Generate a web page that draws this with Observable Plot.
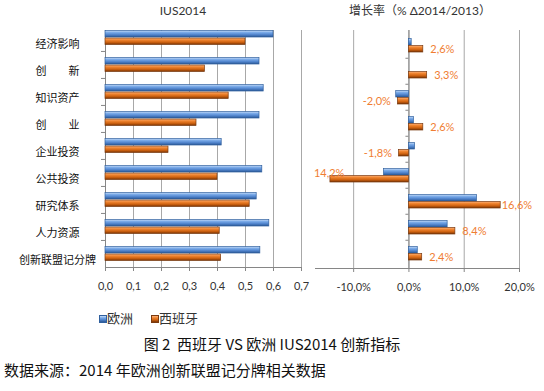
<!DOCTYPE html>
<html><head><meta charset="utf-8">
<script src="https://cdn.jsdelivr.net/npm/d3@7"></script>
<script src="https://cdn.jsdelivr.net/npm/@observablehq/plot@0.6"></script>
<style>
body{margin:0;background:#fff;}
#wrap{position:relative;width:544px;height:391px;overflow:hidden;background:#fff;font-family:"Noto Sans CJK SC",sans-serif;color:#222;}
.abs{position:absolute;white-space:nowrap;}
.sw{position:absolute;width:6px;height:6px;border:1px solid;}
</style></head><body><div id="wrap"></div>
<script>
// ---- data ----
const categories = ["经济影响","创新","知识资产","创业","企业投资","公共投资","研究体系","人力资源","创新联盟记分牌"];
const seriesNames = ["欧洲","西班牙"];
const euIndex = [0.60, 0.55, 0.565, 0.55, 0.415, 0.56, 0.54, 0.585, 0.553];
const esIndex = [0.50, 0.355, 0.44, 0.325, 0.225, 0.40, 0.515, 0.408, 0.413];
const euGrowth = [0.5, 0.0, -2.3, 0.9, 1.1, -4.5, 12.3, 7.0, 1.6];
const esGrowth = [2.6, 3.3, -2.0, 2.6, -1.8, -14.2, 16.6, 8.4, 2.4];
const esGrowthLabels = ["2,6%","3,3%","-2,0%","2,6%","-1,8%","14,2%","16,6%","8,4%","2,4%"];
const leftTicks = [0, 0.1, 0.2, 0.3, 0.4, 0.5, 0.6, 0.7];
const leftTickLabels = ["0,0","0,1","0,2","0,3","0,4","0,5","0,6","0,7"];
const rightTicks = [-10, 0, 10, 20];
const rightTickLabels = ["-10,0%","0,0%","10,0%","20,0%"];
const leftTitle = "IUS2014";
const rightTitle = "增长率（% Δ2014/2013）";
const caption = "图 2  西班牙 VS 欧洲 IUS2014 创新指标";
const source = "数据来源：2014 年欧洲创新联盟记分牌相关数据";

const rows = categories.map((c, i) => ({cat: c, eu: euIndex[i], es: esIndex[i], euG: euGrowth[i], esG: esGrowth[i], lab: esGrowthLabels[i]}));

const BLUE_STOPS = [[0, "#c9ddf7"], [0.3, "#7aaae8"], [0.65, "#4f83cc"], [1, "#2c5894"]];
const ORANGE_STOPS = [[0, "#fbb27c"], [0.3, "#f08530"], [0.65, "#cf6210"], [1, "#7a3404"]];
const gray = "#868686";
const grid = "#a8a8a8";
const labelColor = "#f07d32";
const numFont = "Lato, 'Noto Sans', sans-serif";
const cjkFont = "'Noto Sans CJK SC', sans-serif";

function addGradients(svg, prefix) {
  const defs = d3.select(svg).insert("defs", ":first-child");
  const mk = (id, stops) => {
    const g = defs.append("linearGradient").attr("id", id).attr("x1", 0).attr("y1", 0).attr("x2", 0).attr("y2", 1);
    stops.forEach(([o, c]) => g.append("stop").attr("offset", o).attr("stop-color", c));
  };
  mk(prefix + "B", BLUE_STOPS);
  mk(prefix + "O", ORANGE_STOPS);
}
const spaced = d => d.length === 2 ? d[0] + "\u3000\u3000" + d[1] : d;

const left = Plot.plot({
  width: 305, height: 300,
  marginLeft: 105, marginRight: 4, marginTop: 30, marginBottom: 33,
  style: {background: "none", overflow: "visible", fontFamily: numFont, fontSize: "11px", color: "#333"},
  x: {domain: [0, 0.7], label: null},
  y: {domain: categories, padding: 0, insetTop: -7, label: null},
  marks: [
    Plot.gridX(leftTicks, {stroke: grid, strokeOpacity: 1}),
    Plot.ruleX([0], {stroke: gray}),
    Plot.frame({anchor: "bottom", stroke: gray}),
    Plot.barX(rows, {x: "eu", y: "cat", fill: "url(#LB)", stroke: "#30609e", strokeWidth: 0.7, insetTop: 6.5, insetBottom: 14}),
    Plot.barX(rows, {x: "es", y: "cat", fill: "url(#LO)", stroke: "#7a3a10", strokeWidth: 0.7, insetTop: 14, insetBottom: 6.5}),
    Plot.axisX({ticks: leftTicks, tickFormat: d => leftTickLabels[leftTicks.indexOf(d)], tickSize: 4, tickPadding: 11, stroke: gray, fill: "#333", fontSize: 11, label: null}),
    Plot.axisY({tickSize: 0, tickPadding: 48, textAnchor: "middle", dy: 6, tickFormat: spaced, fontFamily: cjkFont, fontSize: 11, fill: "#111", label: null}),
    Plot.axisY(categories.slice(1), {tickSize: 4, tickFormat: () => "", dy: -13.55, stroke: gray, label: null})
  ]
});
addGradients(left, "L");

const right = Plot.plot({
  width: 244, height: 300,
  marginLeft: 15, marginRight: 25, marginTop: 30, marginBottom: 32,
  style: {background: "none", overflow: "visible", fontFamily: numFont, fontSize: "11px", color: "#333"},
  x: {domain: [-16.9, 20], label: null},
  y: {domain: categories, padding: 0, label: null},
  marks: [
    Plot.gridX(rightTicks, {stroke: grid, strokeOpacity: 1}),
    Plot.ruleX([0], {stroke: gray}),
    Plot.frame({anchor: "bottom", stroke: gray}),
    Plot.barX(rows, {x: "euG", y: "cat", fill: "url(#RB)", stroke: "#30609e", strokeWidth: 0.7, insetTop: 6.5, insetBottom: 13}),
    Plot.barX(rows, {x: "esG", y: "cat", fill: "url(#RO)", stroke: "#7a3a10", strokeWidth: 0.7, insetTop: 13.5, insetBottom: 6}),
    Plot.text(rows.filter(d => d.esG > 0 && d.esG < 15), {x: "esG", y: "cat", text: "lab", dx: 7, dy: 4, textAnchor: "start", fill: labelColor, fontSize: 11}),
    Plot.text(rows.filter(d => d.esG >= 15), {x: "esG", y: "cat", text: "lab", dx: 1, dy: 4, textAnchor: "start", fill: labelColor, fontSize: 11}),
    Plot.text(rows.filter(d => d.esG < 0 && d.esG > -10), {x: "esG", y: "cat", text: "lab", dx: -7, dy: 4, textAnchor: "end", fill: labelColor, fontSize: 11}),
    Plot.text(rows.filter(d => d.esG <= -10), {x: "esG", y: "cat", text: "lab", dx: 14, dy: -2, textAnchor: "end", fill: labelColor, fontSize: 11}),
    Plot.axisX({ticks: rightTicks, tickFormat: d => rightTickLabels[rightTicks.indexOf(d)], tickSize: 4, tickPadding: 11, stroke: gray, fill: "#333", fontSize: 11, label: null}),
    Plot.axisY(categories.slice(1), {x: 0, tickSize: 3, tickFormat: () => "", dy: -13.25, stroke: gray, label: null})
  ]
});
addGradients(right, "R");

const wrap = document.getElementById("wrap");
left.style.position = "absolute"; left.style.left = "0px"; left.style.top = "0px";
right.style.position = "absolute"; right.style.left = "300px"; right.style.top = "0px";
wrap.appendChild(left);
wrap.appendChild(right);

function addText(txt, css) {
  const d = document.createElement("div");
  d.className = "abs";
  d.textContent = txt;
  Object.assign(d.style, css);
  wrap.appendChild(d);
  return d;
}
addText(leftTitle, {left: "133px", width: "100px", textAlign: "center", top: "3px", fontFamily: numFont, fontSize: "12px", lineHeight: "16px", color: "#333"});
addText(rightTitle, {left: "340px", width: "160px", textAlign: "center", top: "3px", fontFamily: "Lato, 'Noto Sans CJK SC', sans-serif", fontSize: "12px", lineHeight: "16px", color: "#333"});

// legend
const legendItems = [
  {name: seriesNames[0], stops: BLUE_STOPS, border: "#30609e", x: 99},
  {name: seriesNames[1], stops: ORANGE_STOPS, border: "#7a3a10", x: 151}
];
legendItems.forEach(it => {
  const sw = document.createElement("div");
  sw.className = "sw";
  sw.style.left = it.x + "px"; sw.style.top = "315px";
  sw.style.borderColor = it.border;
  sw.style.background = "linear-gradient(" + it.stops.map(([o, c]) => c + " " + (o * 100) + "%").join(",") + ")";
  wrap.appendChild(sw);
  addText(it.name, {left: (it.x + 8) + "px", top: "309px", fontFamily: cjkFont, fontSize: "13px", lineHeight: "18px", color: "#333"});
});

addText(caption, {left: "0px", width: "544px", textAlign: "center", top: "334px", fontFamily: cjkFont, fontSize: "15px", lineHeight: "20px", color: "#111", whiteSpace: "pre"});
addText(source, {left: "4px", top: "360px", fontFamily: cjkFont, fontSize: "15px", lineHeight: "20px", color: "#111"});
</script>
</body></html>
